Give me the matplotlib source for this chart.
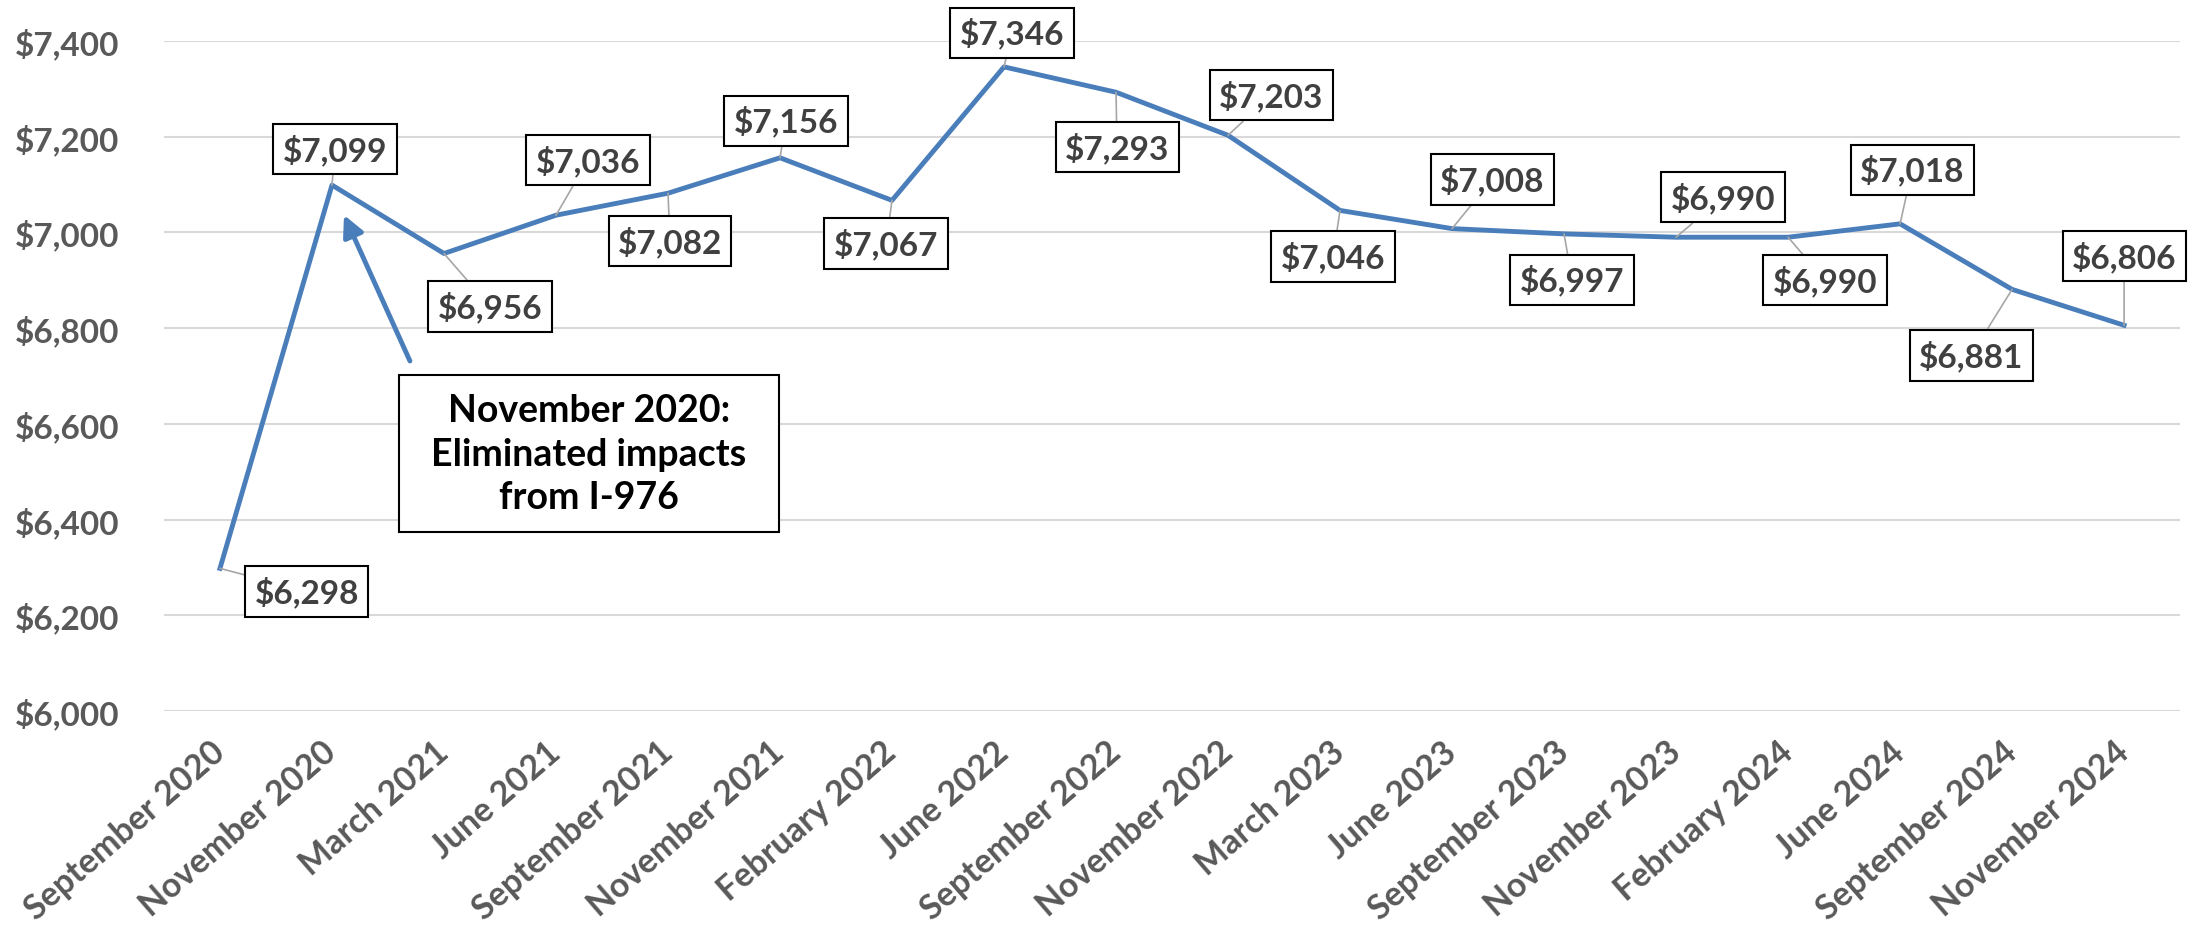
import matplotlib.pyplot as plt
from matplotlib.patches import Rectangle
from matplotlib.ticker import FuncFormatter
import numpy as np

# data
months = ['September 2020', 'November 2020', 'March 2021', 'June 2021',
          'September 2021', 'November 2021', 'February 2022', 'June 2022',
          'September 2022', 'November 2022', 'March 2023', 'June 2023',
          'September 2023', 'November 2023', 'February 2024', 'June 2024',
          'September 2024', 'November 2024']
costs = [6298, 7099, 6956, 7036, 7082, 7156, 7067, 7346, 7293, 7203,
         7046, 7008, 6997, 6990, 6990, 7018, 6881, 6806]
y_ticks = [6000, 6200, 6400, 6600, 6800, 7000, 7200, 7400]
note_text = 'November 2020:\nEliminated impacts\nfrom I-976'

# where each value label sits relative to its point (pixels)
label_dx = [87, 3, 46, 32, 2, 6, -6, 8, 1, 43, -7, 40, 8, 47, 37, 12, -41, 0]
label_dy = [-23, 36, -53, 55, -48, 37, -43, 34, -55, 40, -46, 49, -46, 40, -43, 54, -66, 69]

plt.rcParams['font.family'] = ['Lato', 'DejaVu Sans']
blue = '#4a7ebb'

fig, ax = plt.subplots(figsize=(22.01, 9.28), dpi=100)
fig.subplots_adjust(left=0.0745, right=0.9905, bottom=0.2328, top=0.9547)

x = np.arange(len(months))
ax.plot(x, costs, color=blue, lw=3.5, solid_joinstyle='round', zorder=3)

ax.set_xlim(-0.5, len(months) - 0.5)
ax.set_ylim(6000, 7400)
ax.set_yticks(y_ticks)
ax.yaxis.set_major_formatter(FuncFormatter(lambda v, p: f'${v:,.0f}'))
ax.grid(axis='y', color='#d9d9d9', lw=1.5)
ax.set_axisbelow(True)
for s in ax.spines.values():
    s.set_visible(False)

ax.tick_params(axis='y', length=0, pad=32, labelsize=24, labelcolor='#595959')
for t in ax.get_yticklabels():
    t.set_fontweight('bold')

ax.set_xticks(x)
ax.set_xticklabels(months, rotation=41, ha='right', va='center',
                   rotation_mode='anchor', fontsize=24.5, fontweight='bold',
                   color='#595959')
ax.tick_params(axis='x', length=0, pad=26)

# value labels with leader lines
for i, v in enumerate(costs):
    ax.annotate(f'${v:,}', xy=(i, v), xytext=(label_dx[i], label_dy[i]),
                textcoords='offset pixels', ha='center', va='center',
                fontsize=24, fontweight='bold', color='#404040', zorder=5,
                bbox=dict(boxstyle='square,pad=0.28', fc='white', ec='black', lw=1.5),
                arrowprops=dict(arrowstyle='-', color='#a6a6a6', lw=1.2,
                                shrinkA=0, shrinkB=0))

# note box and arrow
ax.add_patch(Rectangle((0.1166, 0.2672), 0.1885, 0.2343, transform=ax.transAxes,
                       fc='white', ec='black', lw=1.5, zorder=4))
ax.text(0.2108, 0.3843, note_text, transform=ax.transAxes, ha='center', va='center',
        fontsize=27, fontweight='bold', color='black', linespacing=1.35, zorder=5)
ax.annotate('', xy=(0.0893, 0.7403), xycoords='axes fraction',
            xytext=(0.1220, 0.5224), textcoords='axes fraction',
            arrowprops=dict(arrowstyle='-|>,head_length=0.9,head_width=0.45',
                            color=blue, lw=3.5, mutation_scale=14,
                            shrinkA=0, shrinkB=0))

plt.savefig('out.png', dpi=100)
